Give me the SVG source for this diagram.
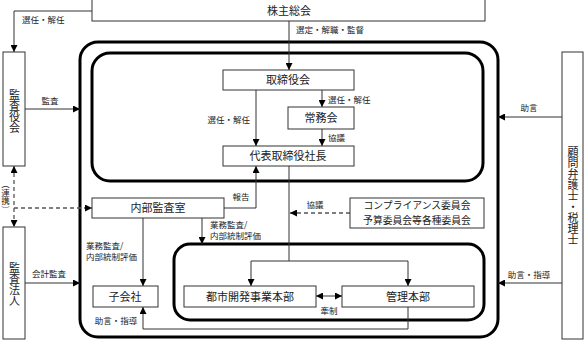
<svg xmlns="http://www.w3.org/2000/svg" width="584" height="341" viewBox="0 0 584 341">
<style>
text{font-family:"Noto Sans CJK JP","Noto Sans CJK SC",sans-serif;fill:#222}
.b{fill:#fff;stroke:#333;stroke-width:1}
.t{font-size:11px;text-anchor:middle}
.s{font-size:8.5px}
.v{writing-mode:vertical-rl;text-anchor:middle;font-size:11px}
.c{fill:none;stroke:#333;stroke-width:1}
.d{fill:none;stroke:#555;stroke-width:1.3;stroke-dasharray:4 3}
.g{fill:none;stroke:#000;stroke-width:3}
</style>
<defs>
<marker id="a" viewBox="0 0 8 8" refX="8" refY="4" markerWidth="7" markerHeight="7" markerUnits="userSpaceOnUse" orient="auto-start-reverse"><path d="M0,0 L8,4 L0,8 z" fill="#000"/></marker>
</defs>
<g id="groups">
<rect class="g" x="80" y="42" width="418" height="295" rx="18"/>
<rect class="g" x="92" y="53" width="391" height="128" rx="18"/>
<rect class="g" x="174" y="244" width="310" height="76" rx="16"/>
</g>
<g id="connectors">
<path class="c" d="M92,11 H14 V52" marker-end="url(#a)"/>
<path class="c" d="M289,21 V70" marker-end="url(#a)"/>
<path class="c" d="M25,109 H80" marker-end="url(#a)"/>
<path class="c" d="M25,283 H80" marker-end="url(#a)"/>
<path class="c" d="M563,117 H498" marker-end="url(#a)"/>
<path class="c" d="M563,283 H498" marker-end="url(#a)"/>
<path class="c" d="M322,90 V107" marker-end="url(#a)"/>
<path class="c" d="M256,90 V146" marker-end="url(#a)"/>
<path class="c" d="M322,129 V146" marker-end="url(#a)"/>
<path class="c" d="M224,208 H256 V166" marker-end="url(#a)"/>
<path class="d" d="M14,166 V227" marker-start="url(#a)" marker-end="url(#a)"/>
<path class="d" d="M14,208 H92" marker-end="url(#a)"/>
<path class="c" d="M143,218 V286" marker-end="url(#a)"/>
<path class="c" d="M202,218 V244" marker-end="url(#a)"/>
<path class="c" d="M289,166 V261"/>
<path class="c" d="M251,261 H408"/>
<path class="c" d="M251,261 V286" marker-end="url(#a)"/>
<path class="c" d="M408,261 V286" marker-end="url(#a)"/>
<path class="d" d="M350,213 H290" marker-end="url(#a)"/>
<path class="c" d="M316,296 H342" marker-start="url(#a)" marker-end="url(#a)"/>
<path class="c" d="M408,307 V329 H143 V307" marker-end="url(#a)"/>
<text class="s" x="22" y="23">選任・解任</text>
<text class="s" x="296" y="33">選定・解職・監督</text>
<text class="s" x="50" y="104" text-anchor="middle">監査</text>
<text class="s" x="49" y="277" text-anchor="middle">会計監査</text>
<text class="s" x="529" y="111" text-anchor="middle">助言</text>
<text class="s" x="529" y="278" text-anchor="middle">助言・指導</text>
<text class="s" x="328" y="103">選任・解任</text>
<text class="s" x="250" y="123" text-anchor="end">選任・解任</text>
<text class="s" x="328" y="141">協議</text>
<text class="s" x="241" y="200" text-anchor="middle">報告</text>
<text class="s" x="5.5" y="197" style="writing-mode:vertical-rl;text-anchor:middle">（連携）</text>
<text class="s"><tspan x="86" y="249">業務監査/</tspan><tspan x="86" y="260">内部統制評価</tspan></text>
<text class="s"><tspan x="210" y="228">業務監査/</tspan><tspan x="210" y="239">内部統制評価</tspan></text>
<text class="s" x="315" y="208" text-anchor="middle">協議</text>
<text class="s" x="329" y="314" text-anchor="middle">牽制</text>
<text class="s" x="116" y="324" text-anchor="middle">助言・指導</text>
</g>
<g id="n-kabunushi"><rect class="b" x="92" y="-1" width="393" height="22"/><text class="t" x="289" y="15">株主総会</text></g>
<g id="n-kansayaku"><rect class="b" x="3" y="52" width="22" height="114"/><text class="v" x="14.5" y="111">監査役会</text></g>
<g id="n-kansahojin"><rect class="b" x="3" y="227" width="22" height="112"/><text class="v" x="14.5" y="284">監査法人</text></g>
<g id="n-komon"><rect class="b" x="562" y="52" width="21" height="287"/><text class="v" x="573" y="196">顧問弁護士・税理士</text></g>
<g id="n-torishimariyakukai"><rect class="b" x="223" y="70" width="131" height="20"/><text class="t" x="288" y="84">取締役会</text></g>
<g id="n-jomukai"><rect class="b" x="288" y="107" width="66" height="22"/><text class="t" x="321" y="122">常務会</text></g>
<g id="n-shacho"><rect class="b" x="223" y="146" width="131" height="20"/><text class="t" x="288" y="160">代表取締役社長</text></g>
<g id="n-naibukansa"><rect class="b" x="92" y="198" width="132" height="20"/><text class="t" x="158" y="212">内部監査室</text></g>
<g id="n-iinkai"><rect class="b" x="350" y="198" width="134" height="30"/><text class="t" style="font-size:9.8px"><tspan x="417" y="209.3">コンプライアンス委員会</tspan><tspan x="417" y="223.6">予算委員会等各種委員会</tspan></text></g>
<g id="n-kogaisha"><rect class="b" x="93" y="286" width="65" height="21"/><text class="t" x="125" y="301">子会社</text></g>
<g id="n-toshikaihatsu"><rect class="b" x="184" y="286" width="132" height="21"/><text class="t" x="250" y="301">都市開発事業本部</text></g>
<g id="n-kanri"><rect class="b" x="342" y="286" width="132" height="21"/><text class="t" x="408" y="301">管理本部</text></g>
</svg>
